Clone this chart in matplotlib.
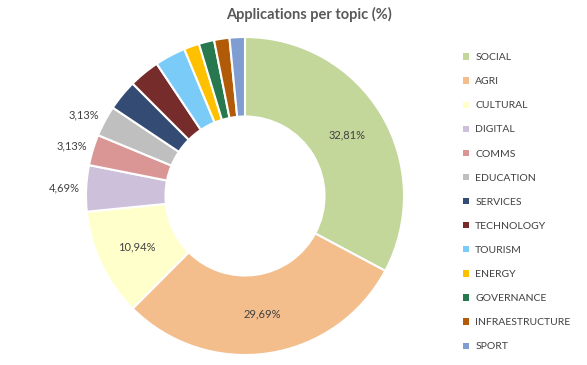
import numpy as np
import matplotlib
matplotlib.use("Agg")
import matplotlib.pyplot as plt

plt.rcParams['font.family'] = ['Lato', 'DejaVu Sans']

topics = ['SOCIAL', 'AGRI', 'CULTURAL', 'DIGITAL', 'COMMS', 'EDUCATION',
          'SERVICES', 'TECHNOLOGY', 'TOURISM', 'ENERGY', 'GOVERNANCE',
          'INFRAESTRUCTURE', 'SPORT']
shares = [32.81, 29.69, 10.94, 4.69, 3.13, 3.13,
          3.13, 3.13, 3.13, 1.56, 1.56, 1.56, 1.56]
colors = ['#C4D79B', '#F4BD8C', '#FFFFCC', '#CCC0DA', '#DA9694', '#BFBFBF',
          '#344C74', '#762C2A', '#7ACBF8', '#FFC000', '#27784E',
          '#B15B09', '#7F9DD1']
inside_labels = ['SOCIAL', 'AGRI', 'CULTURAL']
outside_labels = ['DIGITAL', 'COMMS', 'EDUCATION']

txt_col = '#404040'

fig = plt.figure(figsize=(5.87, 3.65), dpi=100)
ax = fig.add_axes([86/587, 10/365, 318/587, 318/365])

wedges, _ = ax.pie(shares, colors=colors, startangle=90, counterclock=False,
                   radius=1.0,
                   wedgeprops=dict(width=0.5, edgecolor='white', linewidth=1.5))
ax.set_xlim(-1, 1)
ax.set_ylim(-1, 1)
ax.set_aspect('equal')

for w, name, val in zip(wedges, topics, shares):
    lab = ('%.2f%%' % val).replace('.', ',')
    ang = np.deg2rad((w.theta1 + w.theta2) / 2.0)
    if name in inside_labels:
        ax.text(0.75*np.cos(ang), 0.75*np.sin(ang), lab, ha='center', va='center',
                fontsize=8, color=txt_col)
    elif name in outside_labels:
        ax.text(1.04*np.cos(ang), 1.08*np.sin(ang), lab, ha='right', va='center',
                fontsize=8, color=txt_col)

fig.text(309/587, 1 - 14/365, 'Applications per topic (%)', ha='center', va='center',
         fontsize=10.5, fontweight='bold', color='#595959')

leg = fig.legend(wedges, topics, loc='upper left', bbox_to_anchor=(459/587, 1 - 49/365),
                 frameon=False, fontsize=7.5, labelcolor=txt_col,
                 handlelength=0.55, handleheight=0.55, handletextpad=0.6,
                 labelspacing=1.45, borderaxespad=0)
for h in leg.legend_handles:
    h.set_edgecolor('none')

fig.savefig('out.png', dpi=100)
